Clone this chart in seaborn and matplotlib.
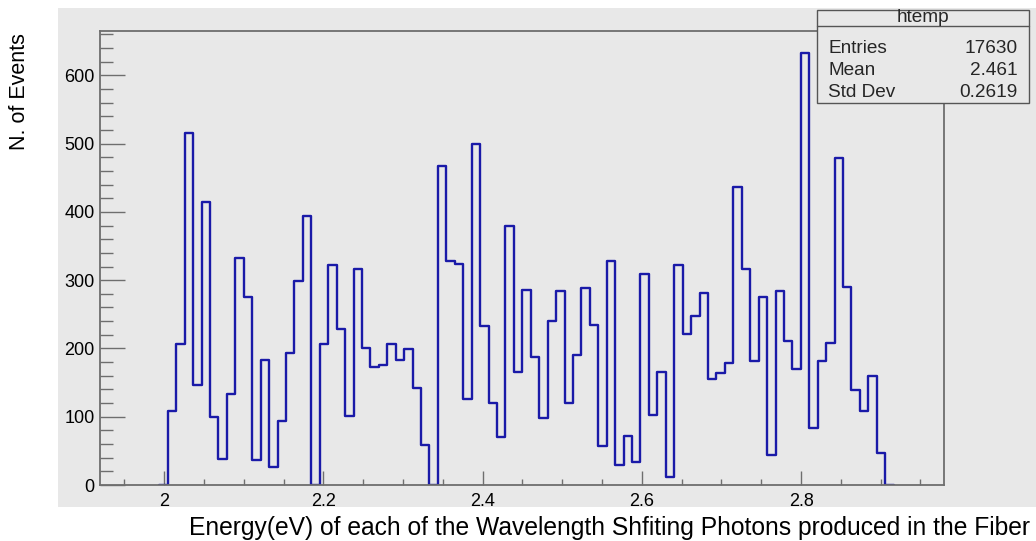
import numpy as np
import pandas as pd
import matplotlib
matplotlib.use("Agg")
import matplotlib.pyplot as plt
import seaborn as sns
from matplotlib.patches import Rectangle
from matplotlib.lines import Line2D
from matplotlib.ticker import FixedLocator, MultipleLocator

# ---------------- data ----------------
X_MIN, X_MAX, N_BINS = 1.9196, 2.9799, 100
FIRST_BIN = 8
counts = [108, 207, 516, 146, 414, 99, 38, 133, 333, 276,
          36, 183, 26, 94, 194, 299, 394, 0, 207, 322,
          228, 101, 316, 201, 173, 176, 207, 183, 199, 142,
          59, 0, 467, 328, 324, 126, 500, 233, 120, 70,
          379, 165, 285, 187, 98, 240, 284, 120, 190, 288,
          235, 57, 328, 30, 72, 33, 309, 103, 165, 12,
          322, 221, 248, 281, 155, 164, 178, 437, 317, 181,
          276, 44, 284, 211, 170, 633, 84, 181, 208, 479,
          290, 139, 109, 159, 47]
x_ticks = [2.0, 2.2, 2.4, 2.6, 2.8]
x_tick_labels = ["2", "2.2", "2.4", "2.6", "2.8"]
y_ticks = [0, 100, 200, 300, 400, 500, 600]
y_tick_labels = ["0", "100", "200", "300", "400", "500", "600"]
Y_MAX = 665
hist_name = "htemp"
stats_labels = ["Entries", "Mean", "Std Dev"]
stats_values = ["17630", "2.461", "0.2619"]
x_title = "Energy(eV) of each of the Wavelength Shfiting Photons produced in the Fiber"
y_title = "N. of Events"

# ---------------- style ----------------
BG = "#e8e8e8"
LINE = "#1a1aa8"
FRAME = "#6e6e6e"
W, H = 1036, 541

sns.set_theme(style="white")
plt.rcParams['font.family'] = ['Liberation Sans', 'DejaVu Sans']

edges_all = np.linspace(X_MIN, X_MAX, N_BINS + 1)
n = len(counts)
edges = [float(e) for e in edges_all[FIRST_BIN - 1:FIRST_BIN + n + 2]]
centers = 0.5 * (edges_all[FIRST_BIN:FIRST_BIN + n] + edges_all[FIRST_BIN + 1:FIRST_BIN + n + 1])
df = pd.DataFrame({"energy": centers, "count": counts})

fig = plt.figure(figsize=(W / 100, H / 100), dpi=100)
fig.patch.set_facecolor("white")
fig.add_artist(Rectangle((58 / W, 1 - 507 / H), (W - 58) / W, (507 - 8) / H,
                         transform=fig.transFigure, facecolor=BG, edgecolor="none", zorder=-5))

ax = fig.add_axes([100.3 / W, 1 - 485 / H, (944.3 - 100.3) / W, (485 - 31) / H])
ax.set_facecolor(BG)

sns.histplot(data=df, x="energy", weights="count", bins=edges, element="step",
             fill=False, color=LINE, linewidth=1.7, ax=ax)

ax.set_xlim(X_MIN, X_MAX)
ax.set_ylim(0, Y_MAX)
ax.set_xlabel("")
ax.set_ylabel("")

ax.xaxis.set_major_locator(FixedLocator(x_ticks))
ax.set_xticklabels(x_tick_labels)
ax.xaxis.set_minor_locator(MultipleLocator(0.05))
ax.yaxis.set_major_locator(FixedLocator(y_ticks))
ax.set_yticklabels(y_tick_labels)
ax.yaxis.set_minor_locator(MultipleLocator(20))

ax.tick_params(axis="x", which="major", direction="in", length=10, width=1,
               color=FRAME, labelsize=13, pad=6, labelcolor="black", bottom=True)
ax.tick_params(axis="x", which="minor", direction="in", length=4.3, width=1,
               color=FRAME, bottom=True)
ax.tick_params(axis="y", which="major", direction="in", length=18, width=1,
               color=FRAME, labelsize=13, pad=4, labelcolor="black", left=True)
ax.tick_params(axis="y", which="minor", direction="in", length=9.4, width=1,
               color=FRAME, left=True)

for s in ax.spines.values():
    s.set_visible(True)
    s.set_color(FRAME)
    s.set_linewidth(1.3)
    s.set_zorder(5)

# axis titles
fig.text(1030 / W, 1 - 535 / H, x_title, ha="right", va="baseline", fontsize=17.7, color="black")
fig.text(20 / W, 1 - 33 / H, y_title, ha="center", va="top", rotation=90, fontsize=15.5, color="black")

# stats box
bx0, bx1, by0, by1 = 817, 1029, 10, 103
fig.add_artist(Rectangle((bx0 / W, 1 - by1 / H), (bx1 - bx0) / W, (by1 - by0) / H,
                         transform=fig.transFigure, facecolor=BG, edgecolor="#555555",
                         linewidth=1, zorder=10))
fig.add_artist(Line2D([bx0 / W, bx1 / W], [1 - 26 / H, 1 - 26 / H], transform=fig.transFigure,
                      color="#555555", linewidth=1, zorder=11))
fig.text((bx0 + bx1) / 2 / W, 1 - 22 / H, hist_name, ha="center", va="baseline",
         fontsize=13.7, zorder=12)
for i, (lab, val) in enumerate(zip(stats_labels, stats_values)):
    yb = 1 - (53 + 22 * i) / H
    fig.text(828 / W, yb, lab, ha="left", va="baseline", fontsize=13.7, zorder=12)
    fig.text(1018 / W, yb, val, ha="right", va="baseline", fontsize=13.7, zorder=12)

fig.savefig("out.png", dpi=100, facecolor="white")
